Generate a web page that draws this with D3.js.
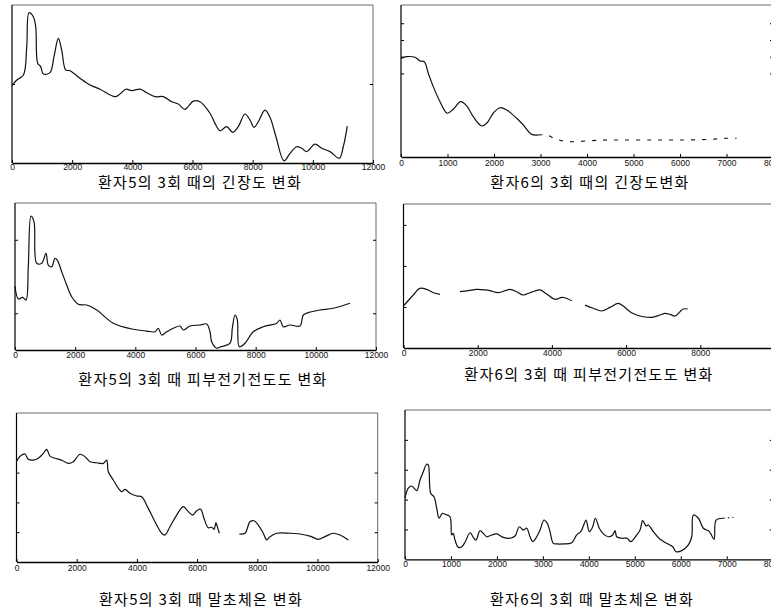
<!DOCTYPE html>
<html>
<head>
<meta charset="utf-8">
<script src="https://cdn.jsdelivr.net/npm/d3@7"></script>
<style>
  body { margin: 0; background: #fff; }
  svg { display: block; }
</style>
</head>
<body>
<svg id="chart" width="771" height="612"></svg>
<script>
// 환자5 긴장도 (time, relative level)
const tension5X = [0,160,380,490,565,708,788,854,954,1040,1263,1396,1539,1652,1785,1928,2260,2593,2925,3424,3590,3789,3979,4255,4477,4753,5029,5308,5528,5751,6026,6249,6582,6748,6914,7137,7336,7522,7745,7911,8044,8187,8410,8576,8775,9041,9241,9463,9630,9796,10072,10295,10571,10880,11012,11145];
const tension5Y = [49,52.5,55.7,73.6,95.1,92.6,86.3,63.1,61,56.3,57.2,67.3,78.9,71.5,58.9,58.4,53.6,49.4,46.7,42,43.7,46.7,45.8,46.7,44.5,42,42,38.8,37.3,34,39.2,38.8,31.5,25.1,20.4,23,19.4,23,31,27.2,22.6,26.1,33.5,28.9,16.6,1.3,6.1,10.3,9.3,7.2,12,9.3,7.2,3,10.3,23.4];

// 환자6 긴장도
const tension6X = [0,123,301,409,501,587,694,839,995,1124,1284,1413,1554,1735,1843,1984,2129,2273,2488,2630,2810,2952];
const tension6Y = [64.9,66,65.6,63.2,62.7,55.1,46.3,36.4,28.8,31.4,36.4,33.6,26.5,20.4,22.2,28.8,32.4,30.9,25.5,21.1,14.9,14.5];
const tension6TailX = [2952,3133,3348,3634,4064,4423,4780,5424,6000,6644,7003,7218];
const tension6TailY = [14.5,14.5,11.6,10.1,10.7,11.2,11.2,11.2,11.2,11.6,12.3,12.3];

// 환자5 피부전기전도도
const skin5X = [0,110,256,366,442,532,632,721,888,1030,1107,1220,1330,1406,1552,1719,1885,2104,2383,2716,3267,3932,4378,4654,4763,4876,5043,5262,5485,5594,5817,6149,6372,6482,6538,6705,6838,7147,7224,7313,7390,7456,7645,7921,8253,8699,8809,8918,9141,9473,9583,9749,10138,10580,11135];
const skin5Y = [43.5,34.7,35.8,34,56.6,91.1,87.2,59,59,65.8,57.8,56.6,62.4,61.2,53.2,44.2,36.2,31.1,30.6,27.2,18.2,14.1,12.9,12.4,14.8,10.2,12.4,14.8,16.3,13.6,16.3,17,17.7,12.4,5.6,1.2,2.2,4.6,14.8,23.8,20.4,2.2,4.6,12.4,15.8,18.2,20.4,15.8,17,16.3,23.8,25.4,27.2,28.4,31.8];

// 환자6 피부전기전도도 (null = no signal)
const skin6X = [0,221,445,625,803,984,1250,1523,1746,1973,2196,2331,2555,2870,3051,3229,3409,3679,3859,4083,4264,4352,4533,4710,4892,5115,5341,5565,5789,5924,6104,6285,6463,6689,6913,7048,7183,7318,7452,7541,7659];
const skin6Y = [29.2,35.6,41.4,40.7,38.4,37.3,null,39.1,39.8,40.7,40.3,39.8,38.4,40.7,39.1,36.8,38.4,40.3,37.5,33.8,35.2,34.9,32.8,null,29.8,27.6,25.7,28.2,31,29.1,25.2,22.9,21.7,21.3,22.9,24.1,23.4,22.2,25.2,27.1,27.1];

// 환자5 말초체온
const temp5X = [0,60,173,282,392,558,724,890,1003,1113,1279,1422,1555,1721,1887,2109,2276,2442,2664,2884,2996,3050,3216,3382,3495,3604,3770,3993,4159,4378,4601,4824,4933,5099,5322,5541,5707,5853,5986,6119,6229,6372,6485,6561,6627,6671,6737,7070,7401,7591,7757,7890,8033,8199,8312,8421,8644,9086,9418,9750,10026,10248,10524,10747,11022];
const temp5Y = [67.5,69.6,71.8,72.5,68.9,68.4,69.6,72.9,75.6,71.1,69.6,68.9,67.8,66.2,67.3,72.3,70.7,67.3,66.6,66.2,68.4,60.6,55,49.5,47.2,48.8,46.1,44.3,43.8,36,27,19.3,18.1,23.7,31.5,37.1,33.8,31.5,34.4,35.4,29.3,23,23.3,21.9,26.4,23.7,19.3,null,18.8,19.3,27,27.7,24.8,19.3,14.8,17,19.3,19.3,18.8,17.4,15.2,17,19.3,18.1,14.8];

// 환자6 말초체온
const temp6X = [0,72,146,255,326,398,472,507,559,631,690,740,812,870,979,1016,1051,1088,1160,1234,1306,1414,1486,1545,1632,1704,1778,1887,1995,2139,2285,2394,2487,2574,2648,2720,2779,2866,2938,3025,3096,3155,3227,3301,3446,3627,3736,3823,3880,3939,4010,4084,4141,4228,4315,4424,4520,4570,4607,4715,4837,4911,5042,5114,5172,5244,5294,5403,5549,5695,5825,5897,6021,6165,6239,6274,6383,6491,6622,6724,6768,6926];
const temp6Y = [40.9,47.6,49.1,46,53.1,58.7,63.7,63.2,44.2,41.9,34.2,27.5,30.8,30.2,28.5,16.3,17.4,12.9,8,8.4,11.4,17.8,14.7,12.9,19.2,17.4,15.1,16.3,17,14.7,14.1,15.6,21.8,19.6,20.8,15.1,11.8,15.1,19.6,26.3,24.1,18.5,10.7,10.3,10.3,11.1,16.3,18.5,22.3,26.3,18.5,21.8,27.5,20.8,17,15.1,16.3,19.2,15.1,14.1,14.1,11.8,16.3,19.6,25.9,22.3,23,18.5,13.4,10.7,8.4,5.1,5.8,9.6,15.1,29.7,27.5,20.8,18.5,13.4,26.3,27.5];
const temp6TailX = [6926,7144];
const temp6TailY = [27.5,28.1];

// 축 눈금
const ticks12k = [0,2000,4000,6000,8000,10000,12000];
const ticks8k = [0,1000,2000,3000,4000,5000,6000,7000,8000];
const ticks8kBy2 = [0,2000,4000,6000,8000];

const titles = [
  "환자5의 3회 때의 긴장도 변화",
  "환자6의 3회 때의 긴장도변화",
  "환자5의 3회 때 피부전기전도도 변화",
  "환자6의 3회 때 피부전기전도도 변화",
  "환자5의 3회 때 말초체온 변화",
  "환자6의 3회 때 말초체온 변화"
];

// layout of the six frames
const panels = [
  { xs: tension5X, ys: tension5Y, xMax: 12000, xTicks: ticks12k, yTicks: [50],
    box: [12, 373, 5, 163], pad: 1, title: titles[0], tx: 200, ty: 184 },
  { xs: tension6X, ys: tension6Y, tailX: tension6TailX, tailY: tension6TailY, tailDash: "4,7",
    xMax: 8000, xTicks: ticks8k, yTicks: [55, 66, 77, 88],
    box: [401, 773, 5, 157], pad: 3, title: titles[1], tx: 590, ty: 184 },
  { xs: skin5X, ys: skin5Y, xMax: 12000, xTicks: ticks12k, yTicks: [25, 75],
    box: [15, 376, 203, 350], pad: 2, title: titles[2], tx: 203, ty: 381 },
  { xs: skin6X, ys: skin6Y, xMax: 10000, xTicks: ticks8kBy2, yTicks: [28.5, 57, 85.5],
    box: [403.5, 774.5, 204, 348], pad: 2, title: titles[3], tx: 589, ty: 376 },
  { xs: temp5X, ys: temp5Y, xMax: 12000, xTicks: ticks12k, yTicks: [20, 40, 60],
    box: [16.5, 377.7, 413, 562], pad: 3, title: titles[4], tx: 201, ty: 601 },
  { xs: temp6X, ys: temp6Y, tailX: temp6TailX, tailY: temp6TailY, tailDash: "1.5,3",
    xMax: 8000, xTicks: ticks8k, yTicks: [20, 40, 60, 80],
    box: [405, 772.7, 410, 559.3], pad: 2, title: titles[5], tx: 592, ty: 601 }
];

const svg = d3.select("#chart");

panels.forEach(p => {
  const [x0, x1, y0, y1] = p.box;
  const x = d3.scaleLinear().domain([0, p.xMax]).range([x0, x1]);
  const y = d3.scaleLinear().domain([0, 100]).range([y1, y0]);
  const g = svg.append("g");

  // frame: top and right edges are lighter
  g.append("line").attr("x1", x0).attr("x2", x1).attr("y1", y0).attr("y2", y0)
    .attr("stroke", "#444").attr("stroke-width", 0.8);
  g.append("line").attr("x1", x1).attr("x2", x1).attr("y1", y0).attr("y2", y1)
    .attr("stroke", "#444").attr("stroke-width", 0.8);
  g.append("line").attr("x1", x0).attr("x2", x0).attr("y1", y0).attr("y2", y1)
    .attr("stroke", "#000").attr("stroke-width", 1.2);

  // bottom axis with inward ticks
  const xAxis = g.append("g")
    .attr("transform", `translate(0,${y1})`)
    .call(d3.axisBottom(x).tickValues(p.xTicks).tickSizeInner(-3).tickSizeOuter(0)
      .tickPadding(p.pad).tickFormat(d3.format("d")));
  xAxis.select(".domain").attr("stroke", "#000").attr("stroke-width", 1.3);
  xAxis.selectAll(".tick line").attr("stroke", "#000");
  xAxis.selectAll("text")
    .attr("font-family", "'Liberation Sans', Arial, sans-serif")
    .attr("font-size", 8.5).attr("fill", "#111");

  // y ticks on both sides, no labels
  const yl = g.append("g").attr("transform", `translate(${x0},0)`)
    .call(d3.axisLeft(y).tickValues(p.yTicks).tickSize(-3).tickFormat(""));
  yl.select(".domain").remove();
  const yr = g.append("g").attr("transform", `translate(${x1},0)`)
    .call(d3.axisRight(y).tickValues(p.yTicks).tickSize(-3).tickFormat(""));
  yr.select(".domain").remove();

  // series
  const pts = p.xs.map((v, i) => ({ x: v, y: p.ys[i] }));
  const line = d3.line()
    .defined(d => d.y !== null)
    .x(d => x(d.x)).y(d => y(d.y))
    .curve(d3.curveCatmullRom.alpha(0.5));
  g.append("path").datum(pts)
    .attr("d", line)
    .attr("fill", "none").attr("stroke", "#111").attr("stroke-width", 1.2)
    .attr("stroke-linejoin", "round");

  if (p.tailX) {
    const tail = p.tailX.map((v, i) => ({ x: v, y: p.tailY[i] }));
    g.append("path").datum(tail)
      .attr("d", line)
      .attr("fill", "none").attr("stroke", "#111").attr("stroke-width", 1.1)
      .attr("stroke-dasharray", p.tailDash);
  }

  // caption under the frame
  g.append("text")
    .attr("x", p.tx).attr("y", p.ty)
    .attr("text-anchor", "middle").attr("dominant-baseline", "middle")
    .attr("font-family", "'Noto Sans CJK KR', sans-serif")
    .attr("font-size", 15).attr("letter-spacing", 1.3)
    .attr("fill", "#000")
    .text(p.title);
});
</script>
</body>
</html>
